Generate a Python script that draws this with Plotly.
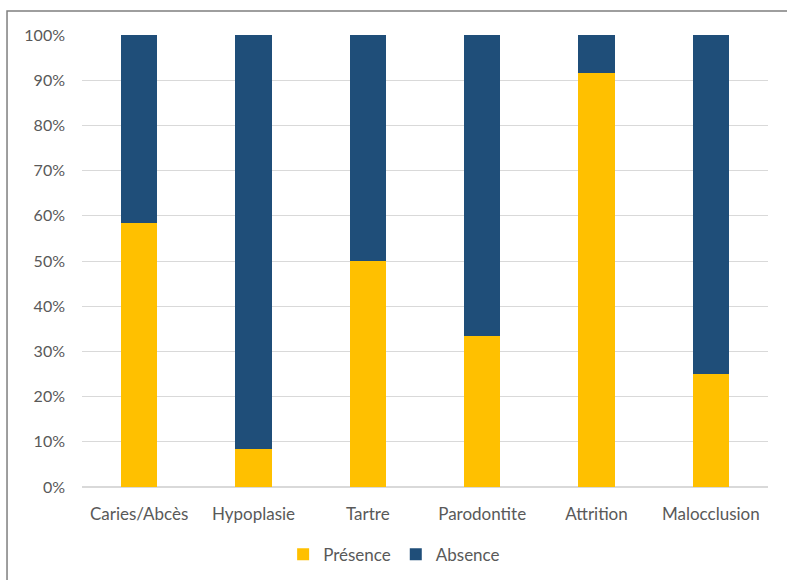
import plotly.graph_objects as go

categories = ["Caries/Abcès", "Hypoplasie", "Tartre", "Parodontite", "Attrition", "Malocclusion"]
presence = [58.33, 8.33, 50.0, 33.33, 91.67, 25.0]
absence = [41.67, 91.67, 50.0, 66.67, 8.33, 75.0]
y_ticks = [0, 10, 20, 30, 40, 50, 60, 70, 80, 90, 100]
y_tick_labels = [f"{v}%" for v in y_ticks]

font_family = "Lato, Open Sans, sans-serif"
text_color = "#595959"

fig = go.Figure()
fig.add_bar(x=categories, y=presence, name="Présence", marker_color="#FFC000", marker_line_width=0)
fig.add_bar(x=categories, y=absence, name="Absence", marker_color="#1F4E79", marker_line_width=0)

fig.update_layout(
    barmode="stack",
    bargap=0.685,
    width=787, height=580,
    margin=dict(l=82, r=19, t=35, b=93, autoexpand=False),
    paper_bgcolor="white", plot_bgcolor="white",
    font=dict(family=font_family, size=16, color=text_color),
    showlegend=True,
    legend=dict(orientation="h", x=0.455, xanchor="center", y=-0.150, yanchor="middle",
                font=dict(size=17, color=text_color), itemwidth=30, traceorder="normal"),
    xaxis=dict(showgrid=False, showline=False, ticks="", ticklabelstandoff=15,
               tickfont=dict(size=17, color=text_color)),
    yaxis=dict(range=[0, 100], tickvals=y_ticks, ticktext=y_tick_labels, showgrid=True,
               gridcolor="#D9D9D9", gridwidth=1, zeroline=True, zerolinecolor="#D9D9D9",
               ticks="", ticklabelstandoff=16, tickfont=dict(size=16, color=text_color)),
    shapes=[dict(type="rect", xref="paper", yref="paper",
                 x0=-0.1093, x1=1.06, y0=-0.24, y1=1.0531,
                 line=dict(color="#7F7F7F", width=1.5), fillcolor="rgba(0,0,0,0)", layer="below")],
)

fig.write_html("out.html", config={"displayModeBar": False},
               post_script="document.body.style.margin='0';")
